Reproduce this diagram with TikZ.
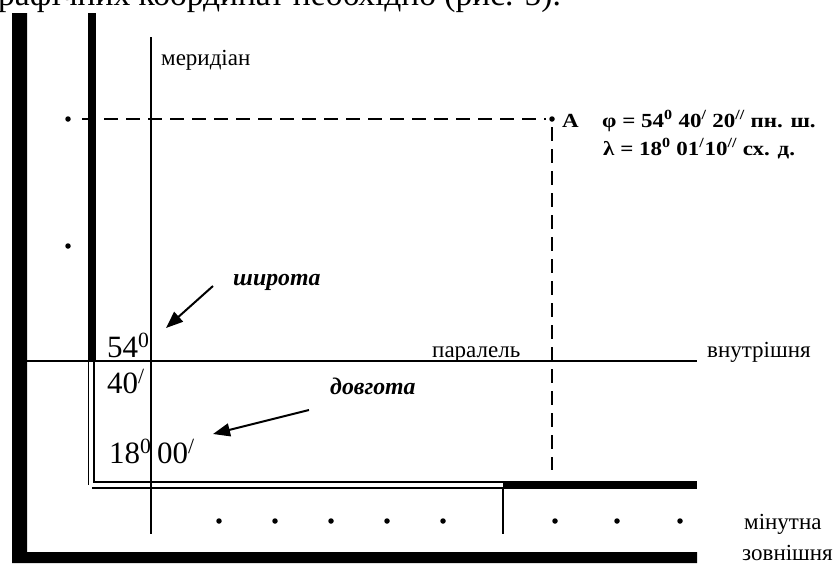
\documentclass[tikz,border=0pt]{standalone}
\usepackage{fontspec}
\setmainfont{Liberation Serif}
\usetikzlibrary{arrows.meta}
\newcommand{\wide}[1]{\scalebox{1.15}[1]{#1}}
\begin{document}
\begin{tikzpicture}[x=1pt,y=-1pt,
  lbl/.style={font=\fontsize{23}{23}\selectfont, inner sep=0pt, anchor=base west},
  big/.style={font=\fontsize{31}{31}\selectfont, inner sep=0pt, anchor=base west},
  bld/.style={font=\bfseries\fontsize{20}{20}\selectfont, inner sep=0pt, anchor=base west},
  bit/.style={font=\bfseries\itshape\fontsize{23.8}{24}\selectfont, inner sep=0pt, anchor=base west},
  thinln/.style={line width=1.5pt},
  dbl/.style={line width=1.2pt},
  pt/.style={circle, fill, inner sep=0pt, minimum size=5.5pt},
  dsh/.style={line width=2pt, dash pattern=on 14pt off 8pt},
  arr/.style={line width=2pt, -{Triangle[length=17pt,width=13pt]}}]
\useasboundingbox (0,0) rectangle (838,563);
% clipped page text above
\begin{scope}
\clip (0,0) rectangle (838,563);
\node[font=\fontsize{33.5}{33.5}\selectfont, inner sep=0pt, anchor=base west] (head) at (-2,5) {рафічних координат необхідно (рис. 5).};
\end{scope}
% outer frame
\fill (12,13) -- (27,13) -- (27,552) -- (697,552) -- (697,563) -- (12,563) -- cycle;
% inner frame
\fill (88,13) rectangle (96,362);
\draw[dbl] (88.5,362) -- (88.5,485);
\draw[dbl] (94,362) -- (94,482) -- (503,482);
\draw[dbl] (92,488) -- (503,488);
\fill (503,481) rectangle (697,489);
\draw[thinln] (503,488) -- (503,534);
% meridian and parallel
\draw[thinln] (151,37) -- (151,534);
\draw[thinln] (27,361) -- (697,361);
% dashed lines
\node[pt] (d1) at (68,119) {};
\node[pt] (A) at (552,119) {};
\node[pt] (d2) at (68,246) {};
\coordinate (hs) at (82,119);
\coordinate (he) at (546,119);
\coordinate (vs) at (552,127);
\coordinate (ve) at (552,470);
\draw[dsh] (hs) -- (he);
\draw[dsh] (vs) -- (ve);
% minute dots
\foreach \x [count=\i] in {219,275,331,387,443,555,617,680}
  \node[pt] (m\i) at (\x,521) {};
% labels
\node[lbl] (mer) at (161,65) {меридіан};
\node[lbl] (par) at (432,357) {паралель};
\node[lbl] (vnu) at (707,357) {внутрішня};
\node[lbl] (min) at (744,529) {мінутна};
\node[lbl] (zov) at (742,560) {зовнішня};
\node[bld] (Alab) at (562,127) {\wide{A}};
\node[bld] (phi) at (602,127) {\wide{φ = 54\textsuperscript{0} 40\textsuperscript{/} 20\textsuperscript{//} пн. ш.}};
\node[bld] (lam) at (603,155) {\wide{λ = 18\textsuperscript{0} 01\textsuperscript{/}10\textsuperscript{//} сх. д.}};
\node[big] (g54) at (107,357) {54\textsuperscript{0}};
\node[big] (m40) at (107,393) {40\textsuperscript{/}};
\node[big] (g18) at (109,463) {18\textsuperscript{0}};
\node[big] (m00) at (157,463) {00\textsuperscript{/}};
\node[bit] (shy) at (233,285) {широта};
\node[bit] (dov) at (330,394) {довгота};
% arrows
\coordinate (s1) at (213,286);
\coordinate (t1) at (166,328);
\coordinate (s2) at (309,410);
\coordinate (t2) at (213,434);
\draw[arr] (s1) -- (t1);
\draw[arr] (s2) -- (t2);
\end{tikzpicture}
\end{document}
